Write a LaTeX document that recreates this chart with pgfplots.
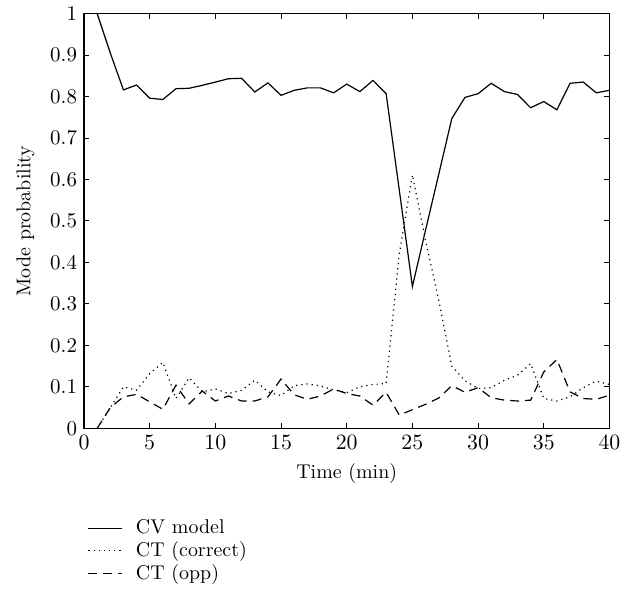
\documentclass[border=0pt]{standalone}
\usepackage{pgfplots}
\pgfplotsset{compat=1.18}
\pgfplotstableread{
t cv cor opp
1 1.000 0.000 0.000
2 0.905 0.050 0.050
3 0.816 0.100 0.076
4 0.828 0.092 0.082
5 0.796 0.132 0.064
6 0.793 0.159 0.046
7 0.819 0.072 0.104
8 0.820 0.122 0.059
9 0.827 0.088 0.090
10 0.835 0.095 0.066
11 0.843 0.084 0.078
12 0.844 0.092 0.066
13 0.811 0.116 0.066
14 0.833 0.088 0.076
15 0.803 0.079 0.119
16 0.815 0.103 0.081
17 0.821 0.107 0.070
18 0.821 0.102 0.078
19 0.809 0.093 0.095
20 0.830 0.086 0.084
21 0.812 0.100 0.078
22 0.839 0.106 0.056
23 0.807 0.108 0.087
24 0.575 0.420 0.032
25 0.342 0.611 0.045
26 0.478 0.453 0.058
27 0.612 0.310 0.073
28 0.747 0.150 0.103
29 0.798 0.115 0.087
30 0.807 0.096 0.098
31 0.832 0.098 0.074
32 0.812 0.116 0.068
33 0.805 0.128 0.066
34 0.773 0.156 0.068
35 0.788 0.072 0.136
36 0.768 0.066 0.166
37 0.832 0.076 0.088
38 0.835 0.098 0.072
39 0.809 0.114 0.070
40 0.815 0.106 0.080
}\datatable
\begin{document}
\begin{tikzpicture}
\begin{axis}[
  width=263.5pt, height=208pt, scale only axis,
  xmin=0, xmax=40, ymin=0, ymax=1,
  xtick={0,5,...,40},
  ytick={0,0.1,0.2,0.3,0.4,0.5,0.6,0.7,0.8,0.9,1},
  yticklabels={0,0.1,0.2,0.3,0.4,0.5,0.6,0.7,0.8,0.9,1},
  tick align=inside,
  xtick pos=both, ytick pos=both,
  major tick length=2.5pt,
  axis line style={line width=0.6pt},
  tick style={line width=0.5pt, black},
  tick label style={font=\fontsize{10.5}{12.5}\selectfont},
  label style={font=\fontsize{10}{12}\selectfont},
  ylabel style={yshift=1pt},
  xlabel={Time (min)},
  ylabel={Mode probability},
  legend style={at={(axis description cs:-0.005,-0.2)}, anchor=north west, draw=none, fill=none,
    font=\fontsize{10}{11.5}\selectfont, row sep=-1.5pt, nodes={inner xsep=6.5pt}},
  legend cell align=left,
]
\addplot[black, line width=0.6pt] table[x=t, y=cv] {\datatable};
\addlegendentry{CV model}
\addplot[black, line width=0.6pt, dash pattern=on 0.6pt off 2pt] table[x=t, y=cor] {\datatable};
\addlegendentry{CT (correct)}
\addplot[black, line width=0.6pt, dash pattern=on 4.5pt off 3pt] table[x=t, y=opp] {\datatable};
\addlegendentry{CT (opp)}
\end{axis}
\path (current axis.outer west) ++(-5pt,0) coordinate (padL);
\path (padL) -- (padL);
\end{tikzpicture}
\end{document}
